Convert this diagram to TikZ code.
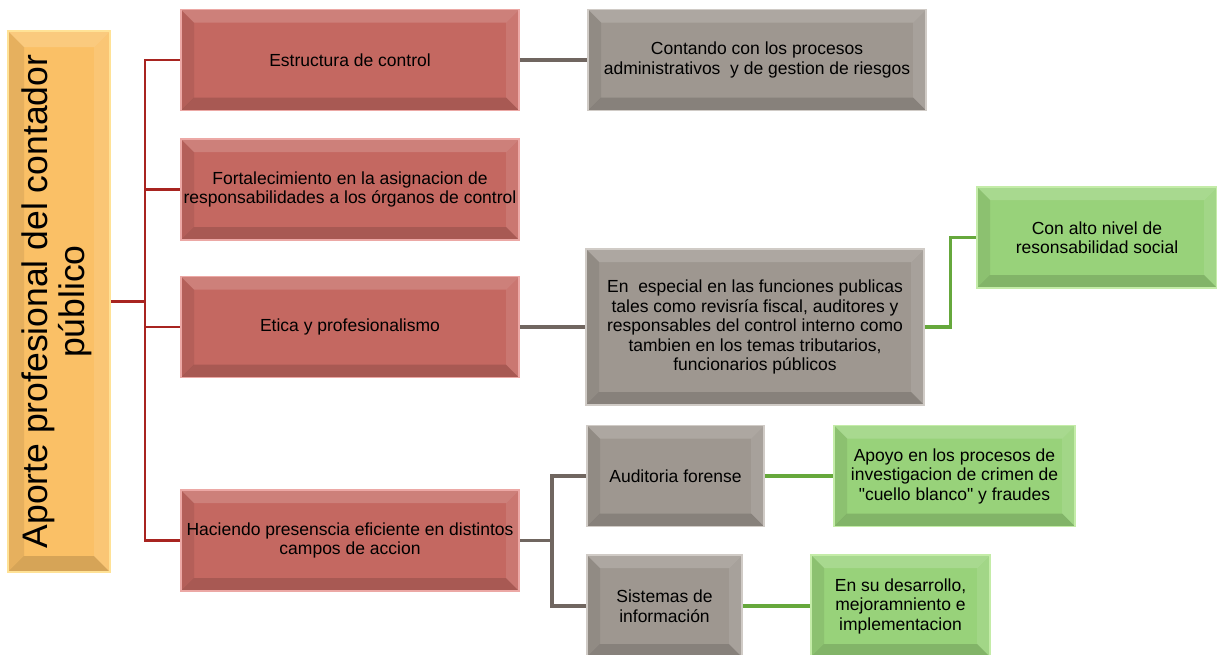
\documentclass[tikz,border=0pt]{standalone}
\usepackage{fontspec}
\setmainfont{Liberation Sans}
\definecolor{redfill}{RGB}{196,104,97}
\definecolor{redborder}{RGB}{236,168,165}
\definecolor{grayfill}{RGB}{158,151,144}
\definecolor{grayborder}{RGB}{208,203,198}
\definecolor{greenfill}{RGB}{152,210,122}
\definecolor{greenborder}{RGB}{196,236,168}
\definecolor{yellowfill}{RGB}{250,192,102}
\definecolor{yellowborder}{RGB}{255,226,150}
\definecolor{redline}{RGB}{168,36,32}
\definecolor{grayline}{RGB}{112,102,96}
\definecolor{greenline}{RGB}{102,168,60}
\tikzset
{
    % Bevel drawn on the inside of each box, lighter on top and right,
    % darker at the bottom and left
    bevel/.style=
    {
        path picture=
        {
            \coordinate (nw) at (path picture bounding box.north west);
            \coordinate (ne) at (path picture bounding box.north east);
            \coordinate (sw) at (path picture bounding box.south west);
            \coordinate (se) at (path picture bounding box.south east);
            \fill[white,opacity=0.16] (nw) -- (ne) -- ([shift={(-#1,-#1)}]ne)
                -- ([shift={(#1,-#1)}]nw) -- cycle;
            \fill[white,opacity=0.10] (ne) -- (se) -- ([shift={(-#1,#1)}]se)
                -- ([shift={(-#1,-#1)}]ne) -- cycle;
            \fill[black,opacity=0.14] (sw) -- (se) -- ([shift={(-#1,#1)}]se)
                -- ([shift={(#1,#1)}]sw) -- cycle;
            \fill[black,opacity=0.08] (nw) -- (sw) -- ([shift={(#1,#1)}]sw)
                -- ([shift={(#1,-#1)}]nw) -- cycle;
        }
    },
    % Style for every box of the chart
    box/.style=
    {
        draw,
        line width=1.5pt,
        inner sep=0pt,
        align=center,
        minimum height=101pt,
        font=\fontsize{17.5}{19.5}\selectfont,
        bevel=13pt
    },
    % Boxes of the first level
    red box/.style=
    {
        box,
        fill=redfill,
        draw=redborder,
        minimum width=338pt
    },
    % Boxes of the second level
    gray box/.style=
    {
        box,
        fill=grayfill,
        draw=grayborder
    },
    % Boxes of the third level
    green box/.style=
    {
        box,
        fill=greenfill,
        draw=greenborder
    },
    % The title box on the left
    root box/.style=
    {
        box,
        fill=yellowfill,
        draw=yellowborder,
        minimum width=102pt,
        minimum height=541pt,
        font=\fontsize{35.5}{36}\selectfont,
        bevel=16pt
    },
    % Styles for the connectors
    red link/.style=
    {
        draw=redline,
        line width=2.6pt
    },
    gray link/.style=
    {
        draw=grayline,
        line width=3.4pt
    },
    green link/.style=
    {
        draw=greenline,
        line width=3.4pt
    }
}

\begin{document}
\begin{tikzpicture}[x=1pt,y=-1pt]
    % Fix the size of the picture
    \useasboundingbox (0,0) rectangle (1217,654);

    % Title
    \node[root box] (root) at (59,301.5)
        {\rotatebox{90}{\begin{tabular}{@{}c@{}}Aporte profesional del contador\\público\end{tabular}}};

    % First level
    \node[red box] (est) at (350,60) {Estructura de control};
    \node[red box] (fort) at (350,189.5)
        {Fortalecimiento en la asignacion de\\responsabilidades a los órganos de control};
    \node[red box] (etica) at (350,327) {Etica y profesionalismo};
    \node[red box] (hac) at (350,540.5)
        {Haciendo presenscia eficiente en distintos\\campos de accion};

    % Second level
    \node[gray box, minimum width=338pt] (cont) at (757,60)
        {Contando con los procesos\\administrativos \ y de gestion de riesgos};
    \node[gray box, minimum width=338pt, minimum height=156pt] (esp) at (755,327)
        {En \ especial en las funciones publicas\\tales como revisría fiscal, auditores y\\responsables del control interno como\\tambien en los temas tributarios,\\funcionarios públicos};
    \node[gray box, minimum width=177pt] (aud) at (675.5,476) {Auditoria forense};
    \node[gray box, minimum width=155pt, minimum height=102pt] (sis) at (664.5,606)
        {Sistemas de\\información};

    % Third level
    \node[green box, minimum width=240pt] (alto) at (1097,237.5)
        {Con alto nivel de\\resonsabilidad social};
    \node[green box, minimum width=241pt] (apoyo) at (954.5,476)
        {Apoyo en los procesos de\\investigacion de crimen de\\\textquotedbl cuello blanco\textquotedbl{} y fraudes};
    \node[green box, minimum width=179pt, minimum height=102pt] (desa) at (900.5,606)
        {En su desarrollo,\\mejoramniento e\\implementacion};

    % Connectors
    %% Title to first level
    \coordinate (rsplit) at (145,301.5);
    \draw[red link] (root.east) -- (rsplit);
    \foreach \n in {est,fort,etica,hac}
        \draw[red link] (rsplit) |- (\n.west);
    %% First to second level
    \draw[gray link] (est.east) -- (cont.west);
    \draw[gray link] (etica.east) -- (esp.west);
    \coordinate (gsplit) at (552,540.5);
    \draw[gray link] (hac.east) -- (gsplit);
    \draw[gray link] (gsplit) |- (aud.west);
    \draw[gray link] (gsplit) |- (sis.west);
    %% Second to third level
    \draw[green link] (esp.east) -- ++(26,0) |- (alto.west);
    \draw[green link] (aud.east) -- (apoyo.west);
    \draw[green link] (sis.east) -- (desa.west);
\end{tikzpicture}
\end{document}
